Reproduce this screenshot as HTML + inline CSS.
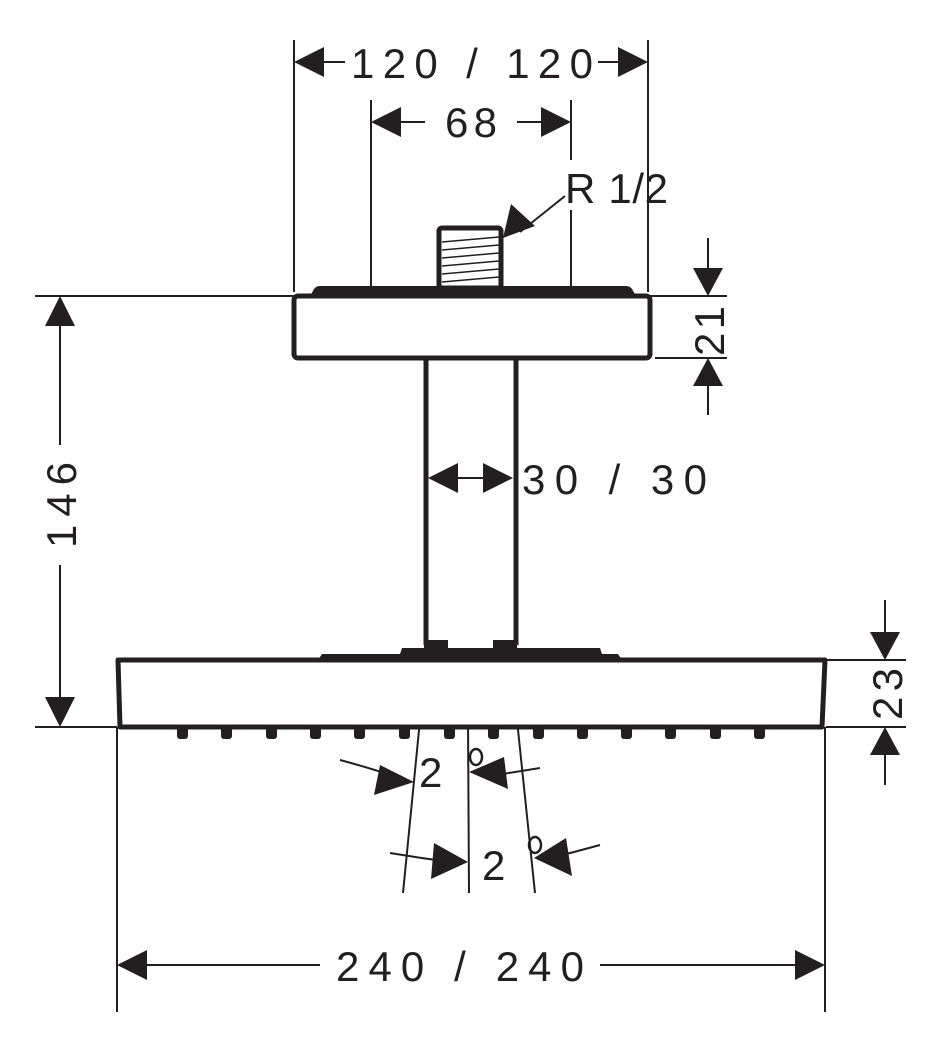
<!DOCTYPE html>
<html><head><meta charset="utf-8"><style>
html,body{margin:0;padding:0;background:#fff;}
svg{display:block;}
text{font-family:"Liberation Sans",sans-serif;font-size:42px;fill:#231f20;}
</style></head><body>
<svg width="943" height="1053" viewBox="0 0 943 1053" xmlns="http://www.w3.org/2000/svg">
<g stroke="#231f20" fill="none" stroke-width="2">
<line x1="294" y1="40" x2="294" y2="292"/>
<line x1="648" y1="40" x2="648" y2="292"/>
<line x1="371" y1="100" x2="371" y2="286"/>
<line x1="571" y1="100" x2="571" y2="160"/>
<line x1="571" y1="210" x2="571" y2="286"/>
<line x1="35" y1="296" x2="294" y2="296"/>
<line x1="35" y1="727" x2="117" y2="727"/>
<line x1="650" y1="296" x2="727" y2="296"/>
<line x1="655" y1="358" x2="727" y2="358"/>
<line x1="826" y1="660" x2="906" y2="660"/>
<line x1="826" y1="727" x2="906" y2="727"/>
<line x1="117" y1="727" x2="117" y2="1012"/>
<line x1="825" y1="727" x2="825" y2="1012"/>
<line x1="318" y1="62" x2="345" y2="62"/>
<line x1="598" y1="62" x2="624" y2="62"/>
<line x1="395" y1="122" x2="425" y2="122"/>
<line x1="517" y1="122" x2="548" y2="122"/>
<line x1="60" y1="320" x2="60" y2="445"/>
<line x1="60" y1="565" x2="60" y2="704"/>
<line x1="708" y1="238" x2="708" y2="275"/>
<line x1="708" y1="380" x2="708" y2="415"/>
<line x1="885" y1="600" x2="885" y2="640"/>
<line x1="885" y1="748" x2="885" y2="785"/>
<line x1="140" y1="965" x2="320" y2="965"/>
<line x1="600" y1="965" x2="800" y2="965"/>
<line x1="450" y1="478" x2="492" y2="478"/>
<line x1="565" y1="196" x2="520" y2="232"/>
<line x1="420" y1="720" x2="403" y2="893"/>
<line x1="468" y1="720" x2="469" y2="893"/>
<line x1="517" y1="720" x2="535" y2="893"/>
<path d="M340 760 Q370 768 400 778"/>
<path d="M540 768 Q515 772 490 776"/>
<path d="M390 853 Q420 858 450 862"/>
<path d="M600 845 Q575 852 550 858"/>
</g>
<g fill="#231f20">
<polygon points="294,62 324,47 324,77"/>
<polygon points="648,62 618,47 618,77"/>
<polygon points="371,122 401,107 401,137"/>
<polygon points="571,122 541,107 541,137"/>
<polygon points="60,296 45,326 75,326"/>
<polygon points="60,727 45,697 75,697"/>
<polygon points="708,296 693,268 723,268"/>
<polygon points="708,358 693,386 723,386"/>
<polygon points="885,660 870,632 900,632"/>
<polygon points="885,727 870,755 900,755"/>
<polygon points="117,965 147,950 147,980"/>
<polygon points="825,965 795,950 795,980"/>
<polygon points="428,478 458,463 458,493"/>
<polygon points="513,478 483,463 483,493"/>
<polygon points="503,238 511,204 535,226"/>
<polygon points="414,782 380,765 374,795"/>
<polygon points="469,772 504,757 508,789"/>
<polygon points="468,862 434,843 431,879"/>
<polygon points="534,858 566,838 572,876"/>
</g>
<g stroke="#231f20" stroke-width="5" fill="#fff">
<rect x="294" y="296" width="356" height="62" rx="4"/>
<path d="M118 660 L825 660 L822 727 L120 727 Z" stroke-linejoin="round"/>
<line x1="426" y1="358" x2="426" y2="645"/>
<line x1="516" y1="358" x2="516" y2="645"/>
</g>
<g fill="#231f20">
<path d="M310 296 L314 289 Q316 286 320 286 L626 286 Q630 286 632 289 L636 296 Z"/>
<path d="M318 660 L322 654 L400 654 L402 648 L600 648 L602 654 L618 654 L622 660 Z"/>
<rect x="424" y="640" width="24" height="8"/>
<rect x="493" y="640" width="24" height="8"/>
</g>
<rect x="439" y="228" width="62" height="60" rx="3" fill="#fff" stroke="#231f20" stroke-width="5"/>
<g stroke="#231f20" stroke-width="1.5">
<line x1="442" y1="242" x2="499" y2="237"/>
<line x1="442" y1="250" x2="499" y2="245"/>
<line x1="442" y1="258" x2="499" y2="253"/>
<line x1="442" y1="266" x2="499" y2="261"/>
<line x1="442" y1="274" x2="499" y2="269"/>
<line x1="442" y1="282" x2="499" y2="277"/>
</g>
<g fill="#231f20">
<rect x="177" y="727" width="11" height="12" rx="3"/>
<rect x="221" y="727" width="11" height="12" rx="3"/>
<rect x="266" y="727" width="11" height="12" rx="3"/>
<rect x="310" y="727" width="11" height="12" rx="3"/>
<rect x="354" y="727" width="11" height="12" rx="3"/>
<rect x="399" y="727" width="11" height="12" rx="3"/>
<rect x="444" y="727" width="11" height="12" rx="3"/>
<rect x="488" y="727" width="11" height="12" rx="3"/>
<rect x="533" y="727" width="11" height="12" rx="3"/>
<rect x="577" y="727" width="11" height="12" rx="3"/>
<rect x="621" y="727" width="11" height="12" rx="3"/>
<rect x="665" y="727" width="11" height="12" rx="3"/>
<rect x="710" y="727" width="11" height="12" rx="3"/>
<rect x="754" y="727" width="11" height="12" rx="3"/>
</g>
<text x="351" y="78" textLength="242" lengthAdjust="spacing">120 / 120</text>
<text x="445" y="137" textLength="52" lengthAdjust="spacing">68</text>
<text x="565" y="203" textLength="103" lengthAdjust="spacing">R 1/2</text>
<text x="522" y="494" textLength="185" lengthAdjust="spacing">30 / 30</text>
<text x="336" y="981" textLength="248" lengthAdjust="spacing">240 / 240</text>
<text transform="translate(76,548) rotate(-90)" textLength="86" lengthAdjust="spacing">146</text>
<text transform="translate(724,356) rotate(-90)" textLength="50" lengthAdjust="spacing">21</text>
<text transform="translate(902,720) rotate(-90)" textLength="52" lengthAdjust="spacing">23</text>
<text x="419" y="787">2</text>
<text x="482" y="880">2</text>
<g fill="none" stroke="#231f20" stroke-width="2.5">
<ellipse cx="476" cy="757" rx="6" ry="8"/>
<ellipse cx="535" cy="845" rx="6" ry="8"/>
</g>
</svg>
</body></html>
